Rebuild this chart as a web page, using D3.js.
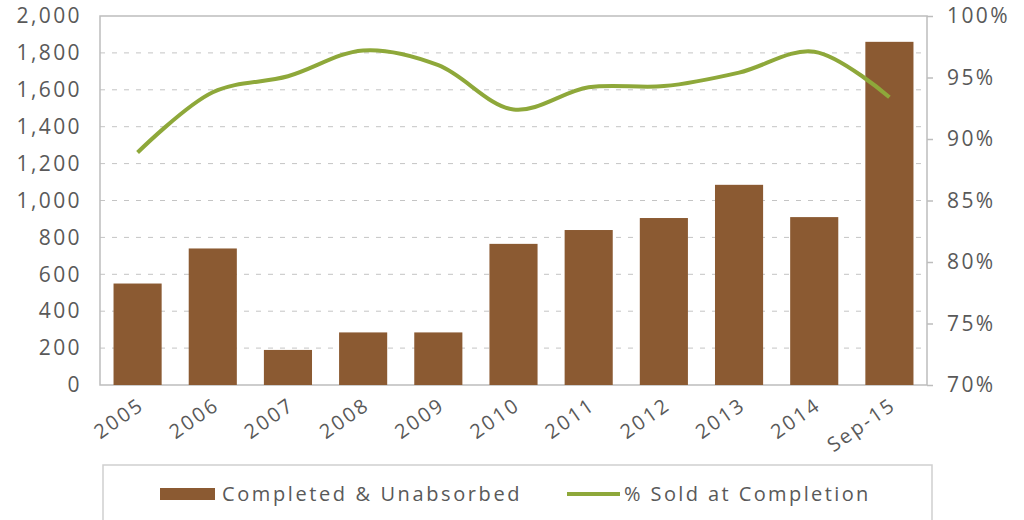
<!DOCTYPE html>
<html><head><meta charset="utf-8">
<script src="https://cdn.jsdelivr.net/npm/d3@7"></script>
<style>body{margin:0;background:#fff}svg{display:block}text{font-family:"Open Sans",sans-serif;fill:#595959}</style>
</head><body><svg id="c" width="1024" height="520"></svg>
<script>
const categories = ["2005","2006","2007","2008","2009","2010","2011","2012","2013","2014","Sep-15"];
const unabsorbed = [550,740,190,285,285,765,840,905,1085,910,1860];
const pctSold = [88.9,93.8,95.1,97.2,96.0,92.4,94.2,94.3,95.4,97.1,93.4];
const leftTicks = [0,200,400,600,800,1000,1200,1400,1600,1800,2000];
const rightTicks = [70,75,80,85,90,95,100];
const legendLabels = ["Completed & Unabsorbed","% Sold at Completion"];

const svg = d3.select("#c");
const L=100, R=927, T=16, B=385;
const x = d3.scaleBand().domain(categories).range([L,R]).paddingInner(0.36).paddingOuter(0.18);
const y = d3.scaleLinear().domain([0,2000]).range([B,T]);
const y2 = d3.scaleLinear().domain([70,100]).range([B,T]);

// gridlines
svg.append("g").selectAll("line").data(leftTicks.filter(d=>d>0&&d<2000)).join("line")
  .attr("x1",L).attr("x2",R).attr("y1",d=>y(d)).attr("y2",d=>y(d))
  .attr("stroke","#c4c4c4").attr("stroke-width",1).attr("stroke-dasharray","5,7");

// frame
svg.append("rect").attr("x",L).attr("y",T).attr("width",R-L).attr("height",B-T)
  .attr("fill","none").attr("stroke","#bdbdbd").attr("stroke-width",1.5);

// bars
svg.append("g").selectAll("rect").data(categories).join("rect")
  .attr("x",d=>x(d)).attr("width",x.bandwidth())
  .attr("y",(d,i)=>y(unabsorbed[i])).attr("height",(d,i)=>B-y(unabsorbed[i]))
  .attr("fill","#8b5a32");

// line
const line = d3.line().x((d,i)=>x(categories[i])+x.bandwidth()/2).y(d=>y2(d)).curve(d3.curveCatmullRom.alpha(0.5));
svg.append("path").datum(pctSold).attr("d",line).attr("fill","none")
  .attr("stroke","#8ea83a").attr("stroke-width",4).attr("stroke-linecap","butt");

// left axis
const ga = svg.append("g").attr("transform",`translate(${L},0)`)
  .call(d3.axisLeft(y).tickValues(leftTicks).tickFormat(d3.format(",")).tickSize(0).tickPadding(18));
ga.select(".domain").remove();
ga.selectAll("text").attr("font-size",21).style("letter-spacing","2.4px").attr("fill","#595959");

// right axis
const gr = svg.append("g").attr("transform",`translate(${R},0)`)
  .call(d3.axisRight(y2).tickValues(rightTicks).tickFormat(d=>d+"%").tickSize(6).tickPadding(14));
gr.select(".domain").remove();
gr.selectAll("line").attr("stroke","#bdbdbd").attr("stroke-width",1.5);
gr.selectAll("text").attr("font-size",21).style("letter-spacing","2.4px").attr("fill","#595959");

// x axis labels
const gx = svg.append("g").attr("transform",`translate(0,${B})`)
  .call(d3.axisBottom(x).tickSize(0).tickPadding(0));
gx.select(".domain").remove();
gx.selectAll("text").attr("font-size",20).style("letter-spacing","2.4px")
  .attr("text-anchor","end").attr("dy",0)
  .attr("transform","translate(8,23) rotate(-35)");

// legend
const lg = svg.append("g");
lg.append("rect").attr("x",103).attr("y",465).attr("width",829).attr("height",70)
  .attr("fill","#fff").attr("stroke","#cfcfcf").attr("stroke-width",1.5);
lg.append("rect").attr("x",160).attr("y",488).attr("width",55).attr("height",12).attr("fill","#8b5a32");
lg.append("text").attr("x",222).attr("y",501).attr("font-size",20).style("letter-spacing","2.6px").text(legendLabels[0]);
lg.append("line").attr("x1",567).attr("x2",620).attr("y1",494).attr("y2",494).attr("stroke","#8ea83a").attr("stroke-width",4);
lg.append("text").attr("x",624).attr("y",501).attr("font-size",20).style("letter-spacing","2.4px").text(legendLabels[1]);
</script></body></html>
